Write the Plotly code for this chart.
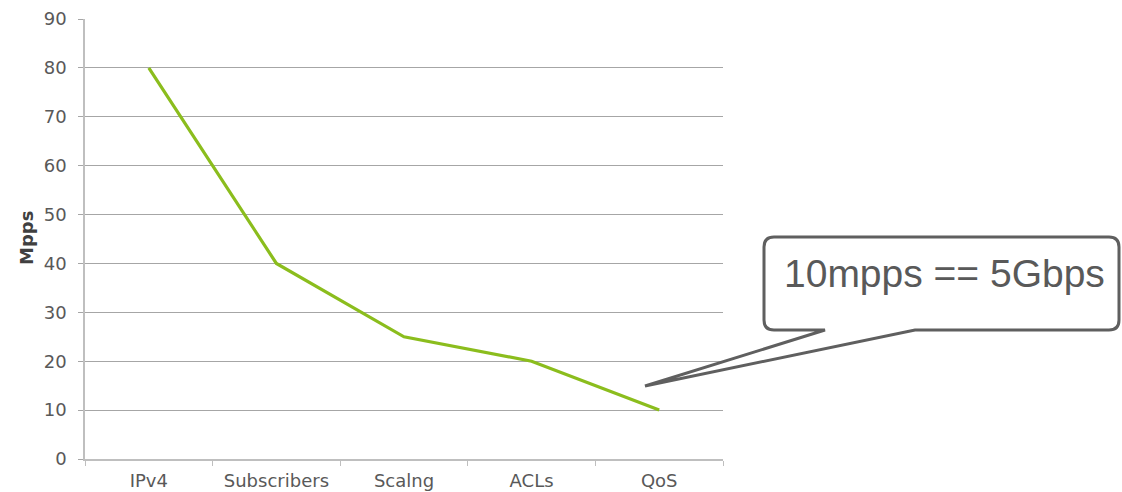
import plotly.graph_objects as go

categories = ["IPv4", "Subscribers", "Scalng", "ACLs", "QoS"]
mpps = [80, 40, 25, 20, 10]
callout_text = "10mpps == 5Gbps"

W, H = 1122, 492
L, R, T, B = 85, 399, 19, 33
PW, PH = W - L - R, H - T - B
FONT = "DejaVu Sans, Liberation Sans, Arial"
CALLOUT_FONT = "Liberation Sans, Arial"


def px(x):
    return (x - L) / PW


def py(y):
    return (H - B - y) / PH


fig = go.Figure()
fig.add_trace(go.Scatter(
    x=categories, y=mpps, mode="lines",
    line=dict(color="#8bbd1d", width=3.2),
    hoverinfo="skip", showlegend=False,
))

# speech bubble outline with tail pointing at the QoS point
x0, x1, y0, y1, r = 764, 1119, 237, 330, 10
tl, tr = 825, 915
tip = (645, 386)
pts = [
    f"M {px(x0 + r)},{py(y0)}",
    f"L {px(x1 - r)},{py(y0)}",
    f"Q {px(x1)},{py(y0)} {px(x1)},{py(y0 + r)}",
    f"L {px(x1)},{py(y1 - r)}",
    f"Q {px(x1)},{py(y1)} {px(x1 - r)},{py(y1)}",
    f"L {px(tr)},{py(y1)}",
    f"L {px(tip[0])},{py(tip[1])}",
    f"L {px(tl)},{py(y1)}",
    f"L {px(x0 + r)},{py(y1)}",
    f"Q {px(x0)},{py(y1)} {px(x0)},{py(y1 - r)}",
    f"L {px(x0)},{py(y0 + r)}",
    f"Q {px(x0)},{py(y0)} {px(x0 + r)},{py(y0)}",
    "Z",
]
fig.add_shape(type="path", xref="paper", yref="paper", path=" ".join(pts),
              line=dict(color="#5f5f5f", width=3), fillcolor="white", layer="above")

fig.add_annotation(xref="paper", yref="paper", x=px(782), y=py(273.5),
                   xanchor="left", yanchor="middle", showarrow=False,
                   text=callout_text,
                   font=dict(family=CALLOUT_FONT, size=39, color="#595959"))

fig.add_annotation(xref="paper", yref="paper", x=px(27), y=py(238),
                   xanchor="center", yanchor="middle", showarrow=False,
                   text="<b>Mpps</b>", textangle=-90,
                   font=dict(family=FONT, size=18, color="#404040"))

fig.update_layout(
    width=W, height=H,
    margin=dict(l=L, r=R, t=T, b=B, autoexpand=False),
    paper_bgcolor="white", plot_bgcolor="white",
    font=dict(family=FONT, size=18, color="#595959"),
    xaxis=dict(
        type="category", range=[-0.5, 4.5], showgrid=False, automargin=False,
        showline=True, linecolor="#bfbfbf", linewidth=1.5,
        ticks="outside", tickson="boundaries", ticklen=5, tickcolor="#bfbfbf",
        ticklabelstandoff=5,
        tickfont=dict(family=FONT, size=18, color="#595959"), fixedrange=True,
    ),
    yaxis=dict(
        range=[0, 90], dtick=10, showgrid=True, gridcolor="#a6a6a6", gridwidth=1,
        automargin=False,
        showline=True, linecolor="#bfbfbf", linewidth=1.5, zeroline=False,
        ticks="outside", ticklen=5, tickcolor="#a6a6a6",
        ticklabelstandoff=8,
        tickfont=dict(family=FONT, size=18, color="#595959"), fixedrange=True,
    ),
)

fig.write_html("out.html")
